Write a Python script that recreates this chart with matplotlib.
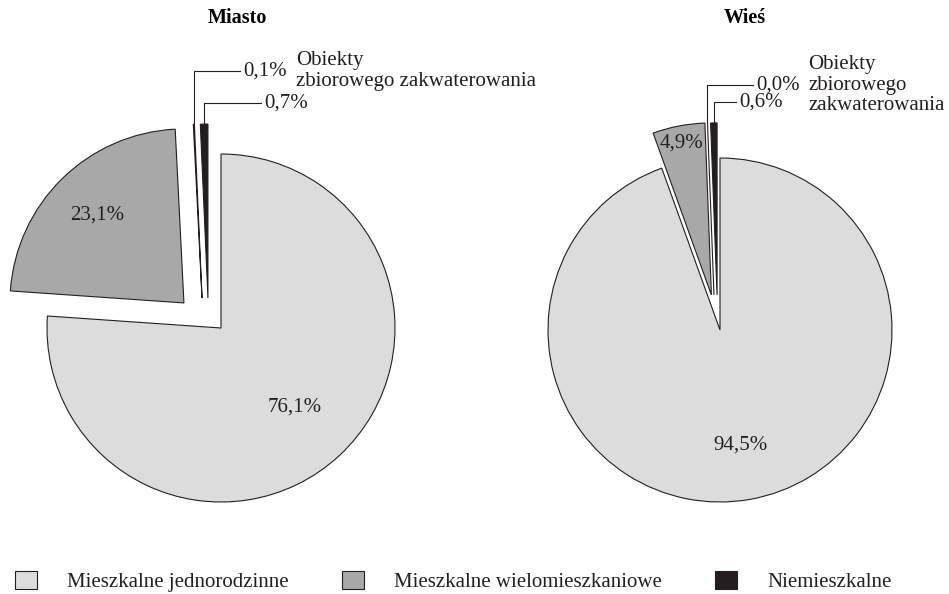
import numpy as np
import matplotlib
matplotlib.use("Agg")
import matplotlib.pyplot as plt
from matplotlib.patches import Patch

plt.rcParams['font.family'] = ['Liberation Serif', 'DejaVu Serif']

# data: slice order clockwise from 12 o'clock
categories = ["Mieszkalne jednorodzinne", "Mieszkalne wielomieszkaniowe",
              "Obiekty zbiorowego zakwaterowania", "Niemieszkalne"]
miasto = [76.1, 23.1, 0.1, 0.7]
wies = [94.5, 4.9, 0.0, 0.6]
colors = ["#dcdcdc", "#a8a8a8", "#ffffff", "#231f20"]
edge = "#231f20"

W, H = 949, 594
fig = plt.figure(figsize=(W / 100, H / 100), dpi=100)


def draw_pie(values, cx, cy, scale, offsets, pct_dist, leaders, title, title_xy, obj_xy, obj_text):
    ax = fig.add_axes([0, 0, 1, 1])
    wedges, _ = ax.pie(values, colors=colors, startangle=90, counterclock=False,
                       wedgeprops=dict(edgecolor=edge, linewidth=0.8))
    # pull the slices apart
    for w, off in zip(wedges, offsets):
        w.set_center(off)
    ax.set_xlim(-cx / scale, (W - cx) / scale)
    ax.set_ylim(-(H - cy) / scale, cy / scale)
    ax.set_aspect('auto')
    ax.axis('off')

    for w, v, d, ld in zip(wedges, values, pct_dist, leaders):
        label = f"{v:.1f}".replace('.', ',') + '%'
        mid = np.deg2rad((w.theta1 + w.theta2) / 2)
        c = w.center
        if ld is None:
            ax.text(c[0] + d * np.cos(mid), c[1] + d * np.sin(mid), label,
                    ha='center', va='center', fontsize=15, color='#231f20')
        else:
            # leader line: up from the top of the slice, then right to the label
            x0, y0 = c[0] + np.cos(mid), c[1] + np.sin(mid)
            ly, lx = ld
            ax.plot([x0, x0, lx], [y0, ly, ly], color=edge, lw=0.8)
            ax.text(lx + 0.02, ly, label, ha='left', va='center', fontsize=15, color='#231f20')

    ax.text(obj_xy[0], obj_xy[1], obj_text, ha='left', va='center', fontsize=15,
            linespacing=1.1, color='#231f20')
    ax.text(title_xy[0], title_xy[1], title, ha='center', va='center',
            fontsize=14.5, fontweight='bold')
    return ax


draw_pie(miasto, 221, 328, 174,
         offsets=[(0, 0), (-0.213, 0.144), (-0.109, 0.172), (-0.075, 0.172)],
         pct_dist=[0.62, 0.71, None, None],
         leaders=[None, None, (1.477, 0.109), (1.293, 0.23)],
         title="Miasto", title_xy=(0.092, 1.782),
         obj_xy=(0.431, 1.477), obj_text="Obiekty\nzbiorowego zakwaterowania")

draw_pie(wies, 720, 330, 172,
         offsets=[(0, 0), (-0.05, 0.204), (-0.035, 0.204), (-0.017, 0.204)],
         pct_dist=[0.68, 0.9, None, None],
         leaders=[None, None, (1.424, 0.192), (1.326, 0.093)],
         title="Wieś", title_xy=(0.145, 1.814),
         obj_xy=(0.512, 1.424), obj_text="Obiekty\nzbiorowego\nzakwaterowania")

legend_idx = [0, 1, 3]
handles = [Patch(facecolor=colors[i], edgecolor=edge, linewidth=0.8) for i in legend_idx]
fig.legend(handles, [categories[i] for i in legend_idx], loc='lower left',
           bbox_to_anchor=(13 / W, 0.0), ncol=3, frameon=False, fontsize=15,
           labelcolor='#231f20', borderpad=0, borderaxespad=0.1,
           handlelength=1.05, handleheight=0.95, handletextpad=1.45, columnspacing=2.55)

fig.savefig("out.png", dpi=100, facecolor='white')
